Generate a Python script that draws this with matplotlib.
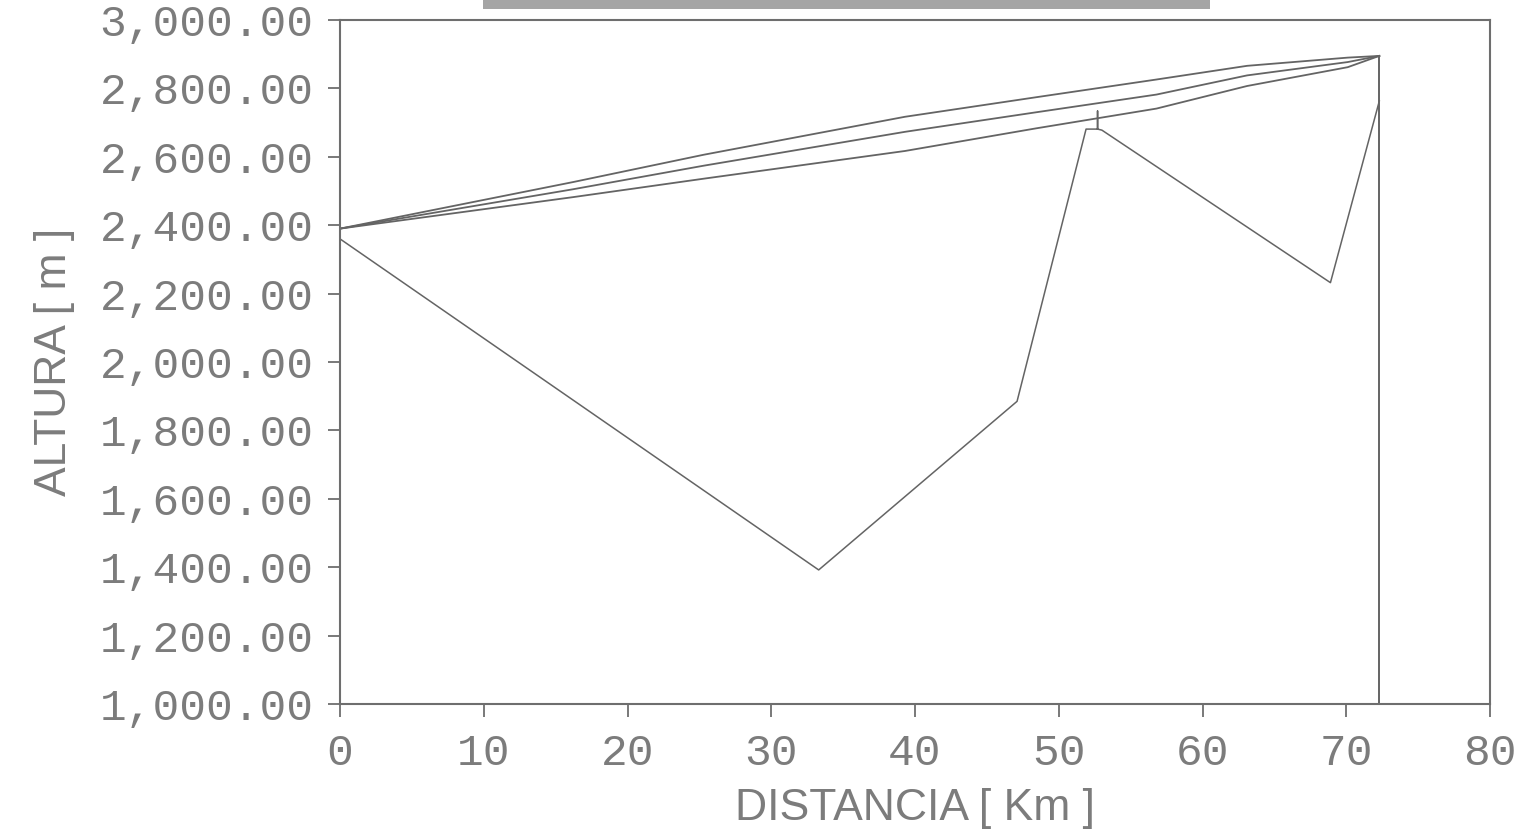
import matplotlib
matplotlib.use("Agg")
import matplotlib.pyplot as plt
from matplotlib.ticker import FuncFormatter
from matplotlib.patches import Rectangle

# ---- data ----
ray_dist = [0, 16.2, 25.3, 39.3, 48.4, 56.8, 63.1, 70.1, 72.3]
ray_upper = [2390, 2526, 2606, 2717, 2774, 2826, 2866, 2890, 2895]
ray_middle = [2390, 2505, 2574, 2673, 2730, 2782, 2838, 2877, 2895]
ray_lower = [2390, 2482, 2536, 2617, 2683, 2741, 2807, 2862, 2895]

terrain_dist = [0, 33.3, 47.1, 51.9, 52.7, 52.7, 52.7, 53.0, 68.9, 72.3]
terrain_alt = [2360, 1392, 1885, 2681, 2681, 2734, 2681, 2678, 2232, 2763]

tower_dist = [72.3, 72.3]
tower_alt = [1000, 2895]

x_ticks = [0, 10, 20, 30, 40, 50, 60, 70, 80]
y_ticks = [1000, 1200, 1400, 1600, 1800, 2000, 2200, 2400, 2600, 2800, 3000]

x_label = "DISTANCIA [ Km ]"
y_label = "ALTURA [ m ]"

# ---- styling ----
W, H = 1538, 835
line_col = "#646464"
text_col = "#7c7c7c"
spine_col = "#6e6e6e"

fig = plt.figure(figsize=(W / 100, H / 100), dpi=100)
fig.patch.set_facecolor("white")

left, right, top, bottom = 340, 1490, 20, 704
ax = fig.add_axes([left / W, 1 - bottom / H, (right - left) / W, (bottom - top) / H])

for yv in (ray_upper, ray_middle, ray_lower):
    ax.plot(ray_dist, yv, color=line_col, lw=1.3)
ax.plot(terrain_dist, terrain_alt, color=line_col, lw=1.1)
ax.plot(tower_dist, tower_alt, color=line_col, lw=1.4)

ax.set_xlim(0, 80)
ax.set_ylim(1000, 3000)
ax.set_xticks(x_ticks)
ax.set_yticks(y_ticks)
ax.yaxis.set_major_formatter(FuncFormatter(lambda v, p: f"{v:,.2f}"))
ax.xaxis.set_major_formatter(FuncFormatter(lambda v, p: f"{int(v)}"))

for s in ax.spines.values():
    s.set_color(spine_col)
    s.set_linewidth(1.5)

ax.tick_params(axis="both", direction="out", length=9, width=1.3, color=spine_col)
ax.tick_params(axis="y", pad=10)
ax.tick_params(axis="x", pad=12)

mono = ["Liberation Mono", "DejaVu Sans Mono"]
for lab in ax.get_yticklabels() + ax.get_xticklabels():
    lab.set_family(mono)
    lab.set_fontsize(32)
    lab.set_color(text_col)

ax.set_xlabel(x_label, family=["Liberation Sans", "DejaVu Sans"], fontsize=32,
              color=text_col, labelpad=10)
ax.set_ylabel(y_label, family=["Liberation Sans", "DejaVu Sans"], fontsize=32,
              color=text_col, labelpad=18)

# scanned header bar remnant at the very top
fig.patches.append(Rectangle((483 / W, 1 - 9 / H), (1210 - 483) / W, 9 / H,
                             transform=fig.transFigure, facecolor="#a5a5a5",
                             edgecolor="none"))

fig.savefig("out.png", dpi=100)
